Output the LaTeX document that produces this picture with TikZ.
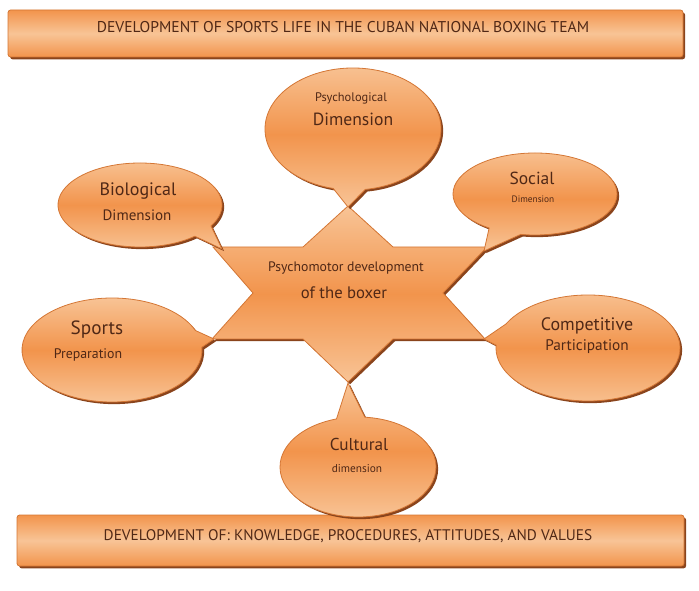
\documentclass[tikz,border=0pt]{standalone}
\usepackage{fontspec}
\setmainfont{PT Sans}
\definecolor{boxLight}{RGB}{248,196,150}
\definecolor{boxMid}{RGB}{242,148,76}
\definecolor{boxEdge}{RGB}{212,118,52}
\definecolor{boxShadow}{RGB}{138,68,28}
\definecolor{boxText}{RGB}{80,40,22}

\begin{document}
\begin{tikzpicture}[x=0.75pt,y=0.75pt,yscale=-1,xscale=1,
	orangefill/.style={draw=boxEdge,line width=0.6,top color=boxLight,bottom color=boxLight,middle color=boxMid,
		preaction={fill=boxShadow,transform canvas={shift={(1.6pt,-1.6pt)}}}},
	barfill/.style={draw=boxEdge,line width=0.6,rounded corners=2,top color=boxMid,bottom color=boxMid,middle color=boxLight,
		preaction={fill=boxShadow,transform canvas={shift={(1.6pt,-1.8pt)}}}},
	lbl/.style={inner sep=0.75pt,text=boxText}]
	\useasboundingbox (0,0) rectangle (699,591);
	\draw  [barfill] (8,10) rectangle (683,57) ;
	\draw  [barfill] (17,515) rectangle (684,566) ;
	\draw  [orangefill] (348,206) -- (393,247) -- (487,247) -- (443,293) -- (485,339) -- (393,339) -- (348,382) -- (303,339) -- (212,339) -- (253,293) -- (213,247) -- (303,247) -- cycle ;
	\draw  [orangefill] (353,129) ++(103:88 and 61) arc [start angle=103, end angle=442, x radius=88, y radius=61] -- (348,207) -- cycle ;
	\draw  [orangefill] (140,205) ++(48:82 and 42) arc [start angle=48, end angle=390, x radius=82, y radius=42] -- (222,249) -- cycle ;
	\draw  [orangefill] (535,194) ++(124:82 and 41) arc [start angle=124, end angle=460, x radius=82, y radius=41] -- (484,251) -- cycle ;
	\draw  [orangefill] (112,350) ++(-3:90 and 52) arc [start angle=-3, end angle=338, x radius=90, y radius=52] -- (214,339) -- cycle ;
	\draw  [orangefill] (588,348) ++(207:92 and 53) arc [start angle=207, end angle=543, x radius=92, y radius=53] -- (484,339) -- cycle ;
	\draw  [orangefill] (358,467) ++(275:78 and 50) arc [start angle=275, end angle=614, x radius=78, y radius=50] -- (348,383) -- cycle ;
	\draw (343,27) node (topTitle) [lbl,font=\fontsize{11.7}{13}\selectfont] {DEVELOPMENT OF SPORTS LIFE IN THE CUBAN NATIONAL BOXING TEAM};
	\draw (348,536) node (bottomTitle) [lbl,font=\fontsize{11.5}{13}\selectfont] {DEVELOPMENT OF: KNOWLEDGE, PROCEDURES, ATTITUDES, AND VALUES};
	\draw (346,268) node (centreA) [lbl,font=\fontsize{10.3}{12}\selectfont] {Psychomotor development};
	\draw (344,293) node (centreB) [lbl,font=\fontsize{12.5}{14}\selectfont] {of the boxer};
	\draw (351,98) node (psyA) [lbl,font=\fontsize{9.3}{11}\selectfont] {Psychological};
	\draw (353,119) node (psyB) [lbl,font=\fontsize{13.2}{15}\selectfont] {Dimension};
	\draw (138,191) node (bioA) [lbl,font=\fontsize{13.5}{15}\selectfont] {Biological};
	\draw (137,215) node (bioB) [lbl,font=\fontsize{11.3}{13}\selectfont] {Dimension};
	\draw (532,178) node (socA) [lbl,font=\fontsize{13.1}{15}\selectfont] {Social};
	\draw (533,199) node (socB) [lbl,font=\fontsize{7}{8}\selectfont] {Dimension};
	\draw (97,330) node (spoA) [lbl,font=\fontsize{14.4}{16}\selectfont] {Sports};
	\draw (88,355) node (spoB) [lbl,font=\fontsize{10.4}{12}\selectfont] {Preparation};
	\draw (587,326) node (comA) [lbl,font=\fontsize{13.5}{15}\selectfont] {Competitive};
	\draw (587,347) node (comB) [lbl,font=\fontsize{11.5}{13}\selectfont] {Participation};
	\draw (359,444) node (culA) [lbl,font=\fontsize{12.9}{15}\selectfont] {Cultural};
	\draw (357,469) node (culB) [lbl,font=\fontsize{8.5}{10}\selectfont] {dimension};
\end{tikzpicture}
\end{document}
